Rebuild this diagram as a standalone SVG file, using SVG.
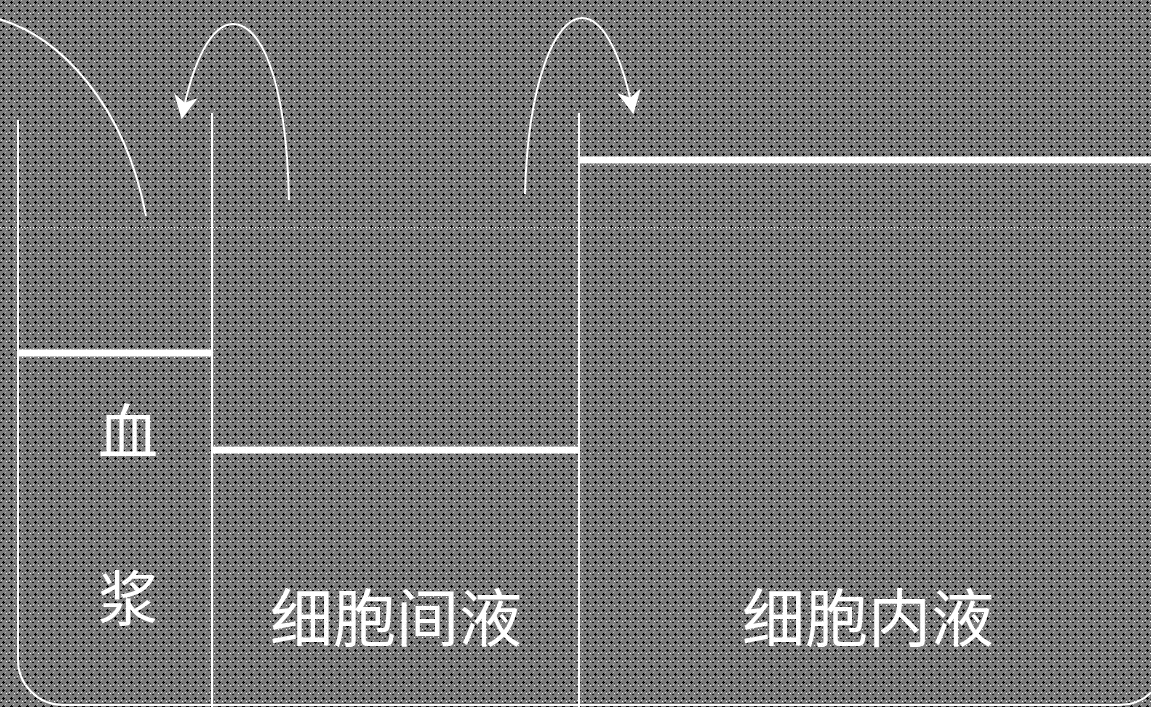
<svg xmlns="http://www.w3.org/2000/svg" width="1151" height="707" viewBox="0 0 1151 707">
<defs>
<pattern id="bg" width="8" height="8" patternUnits="userSpaceOnUse">
<rect width="8" height="8" fill="#7c7c7c"/>
<rect x="3" y="1" width="1" height="3" fill="#000"/>
<rect x="2" y="2" width="3" height="1" fill="#000"/>
<rect x="0" y="6" width="2" height="1" fill="#111"/>
<rect x="6" y="5" width="1" height="1" fill="#fff"/>
<rect x="1" y="4" width="1" height="1" fill="#ddd"/>
<rect x="5" y="0" width="1" height="1" fill="#bbb"/>
<rect x="6" y="3" width="1" height="1" fill="#333"/>
</pattern>
<marker id="ah" viewBox="0 0 20 20" refX="18" refY="10" markerWidth="24" markerHeight="24" markerUnits="userSpaceOnUse" orient="auto">
<path d="M0 0 L20 10 L0 20 L6 10 Z" fill="#fff"/>
</marker>
<style>
.thin{stroke:#fff;stroke-width:2;fill:none}
.thick{stroke:#fff;stroke-width:7;fill:none}
.lbl{fill:#fff;font-family:"Noto Sans CJK SC","Noto Sans",sans-serif;text-anchor:middle}
</style>
</defs>
<rect width="1151" height="707" fill="url(#bg)"/>
<line x1="0" y1="227.5" x2="1151" y2="227.5" stroke="#fff" stroke-width="1" stroke-dasharray="1 2" opacity="0.9"/>
<g id="container">
<path class="thin" d="M18 120 V660 A45 45 0 0 0 63 705 H1120 A45 45 0 0 0 1165 660"/>
<line class="thin" x1="212" y1="113" x2="212" y2="707"/>
<line class="thin" x1="579" y1="113" x2="579" y2="707"/>
</g>
<g id="plasma">
<line class="thick" x1="18" y1="353" x2="212" y2="353"/>
<text class="lbl" x="128" y="454" font-size="60">血</text>
<text class="lbl" x="128" y="621" font-size="60">浆</text>
</g>
<g id="interstitial">
<line class="thick" x1="212" y1="450" x2="579" y2="450"/>
<text class="lbl" x="396" y="641" font-size="63">细胞间液</text>
</g>
<g id="intracellular">
<line class="thick" x1="579" y1="160" x2="1151" y2="160"/>
<text class="lbl" x="868" y="641" font-size="63">细胞内液</text>
</g>
<g id="connectors">
<path class="thin" d="M-5 18 C60 35 125 105 146 216"/>
<path class="thin" d="M289 200 C286 70 258 24 233 24 C212 24 193 60 182 117" marker-end="url(#ah)"/>
<path class="thin" d="M525 194 C528 80 556 18 582 18 C606 18 624 65 633 112" marker-end="url(#ah)"/>
</g>
</svg>
